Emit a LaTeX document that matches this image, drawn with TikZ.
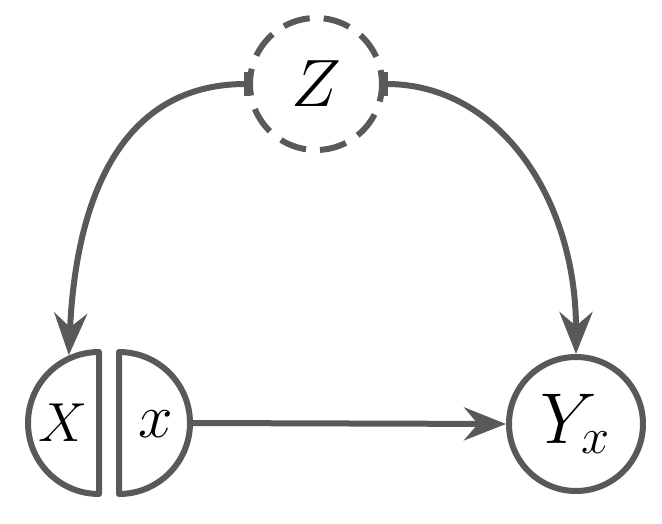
\RequirePackage{fix-cm}
\documentclass[tikz,border=0pt]{standalone}
\usetikzlibrary{arrows.meta}
\definecolor{edgegray}{HTML}{595959}
\begin{document}
\begin{tikzpicture}[x=1pt,y=-1pt,
  conn/.style={draw=edgegray, line width=6pt,
    -{Stealth[length=42pt,width=33pt,inset=14pt]}},
  barconn/.style={draw=edgegray, line width=6pt,
    {Bar[width=24pt,line width=6pt]}-{Stealth[length=42pt,width=33pt,inset=14pt]}},
  halfdisc/.style={draw=edgegray, line width=6pt, line join=round},
  plaincirc/.style={circle, draw=edgegray, line width=6pt, inner sep=0pt},
  ghost/.style={circle, inner sep=0pt},
  lbl/.style={anchor=base, inner sep=0pt}]
\useasboundingbox (0,0) rectangle (662,524);
% Z node (dashed)
\node[plaincirc, outer sep=0pt, minimum size=132pt, dash pattern=on 27pt off 14pt, dash phase=13pt] (Z) at (316,84) {};
\node[lbl] (Zt) at (316,107) {\fontsize{67}{67}\selectfont $Z$};
% X / x split node
\node[ghost, minimum size=148pt] (Xc) at (99,423) {};
\node[ghost, minimum size=148pt] (xc) at (119,423) {};
\draw[halfdisc] (99,352) arc[start angle=270, end angle=90, radius=71] -- cycle;
\draw[halfdisc] (119,352) arc[start angle=270, end angle=450, radius=71] -- cycle;
\node[lbl] (Xt) at (63,441) {\fontsize{55}{55}\selectfont $X$};
\node[lbl] (xt) at (156,437) {\fontsize{62}{62}\selectfont $x$};
% Y_x node
\node[plaincirc, minimum size=134pt] (Y) at (576,424) {};
\node[lbl] (Yt) at (575,443) {\fontsize{72}{72}\selectfont $Y_x$};
% connectors
\draw[barconn] (Z.west) .. controls (120,84) and (76,200) .. (Xc.114);
\draw[barconn] (Z.east) .. controls (500,84) and (576,200) .. (Y.north);
\draw[conn] (xc.east) -- (Y.west);
\end{tikzpicture}
\end{document}
